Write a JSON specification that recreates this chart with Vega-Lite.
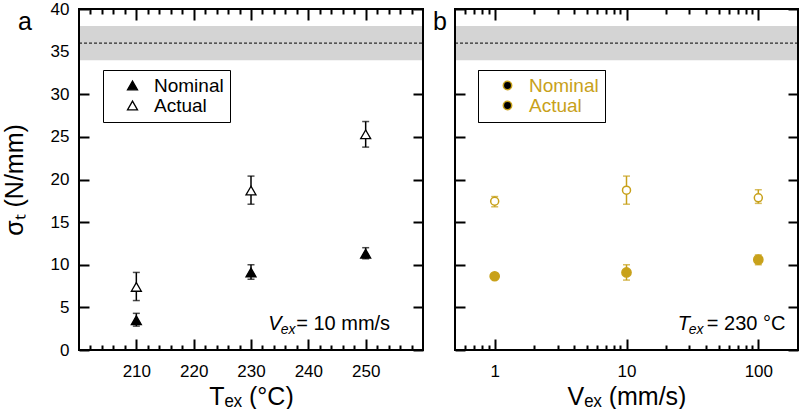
{
  "$schema": "https://vega.github.io/schema/vega-lite/v6.json",
  "padding": {"left": 2, "top": 0, "right": 3, "bottom": 0},
  "width": 719,
  "height": 341,
  "config": {
    "view": {"stroke": null},
    "font": "Liberation Sans",
    "axis": {"domain": false, "grid": false, "tickColor": "black", "tickWidth": 2, "labelColor": "black", "titleColor": "black", "labelFont": "Liberation Sans", "titleFont": "Liberation Sans", "titleFontWeight": "normal", "labelFontSize": 17, "titleFontSize": 25}
  },
  "datasets": {
    "temp": [
      {"T": 210, "type": "Nominal", "v": 3.5, "lo": 2.8, "hi": 4.3},
      {"T": 230, "type": "Nominal", "v": 9.1, "lo": 8.3, "hi": 10.0},
      {"T": 250, "type": "Nominal", "v": 11.3, "lo": 10.7, "hi": 12.0},
      {"T": 210, "type": "Actual", "v": 7.4, "lo": 5.8, "hi": 9.1},
      {"T": 230, "type": "Actual", "v": 18.7, "lo": 17.1, "hi": 20.4},
      {"T": 250, "type": "Actual", "v": 25.3, "lo": 23.8, "hi": 26.8}
    ],
    "vel": [
      {"V": 1, "type": "Nominal", "v": 8.65, "lo": 8.45, "hi": 8.85},
      {"V": 10, "type": "Nominal", "v": 9.1, "lo": 8.2, "hi": 10.0},
      {"V": 100, "type": "Nominal", "v": 10.6, "lo": 10.0, "hi": 11.15},
      {"V": 1, "type": "Actual", "v": 17.45, "lo": 16.8, "hi": 18.0},
      {"V": 10, "type": "Actual", "v": 18.75, "lo": 17.1, "hi": 20.4},
      {"V": 100, "type": "Actual", "v": 17.85, "lo": 17.2, "hi": 18.8}
    ],
    "band": [{"lo": 34, "hi": 38, "ref": 36}]
  },
  "layer": [
    {
      "layer": [
        {
          "data": {"name": "band"},
          "mark": {"type": "rect", "color": "#d4d4d4"},
          "encoding": {
            "x": {"datum": 200, "type": "quantitative", "scale": {"domain": [200, 260], "range": [0, 344], "nice": false, "zero": false}, "axis": null},
            "x2": {"datum": 260},
            "y": {"field": "lo", "type": "quantitative", "scale": {"domain": [0, 40], "nice": false},
              "axis": {"orient": "left", "values": [0,5,10,15,20,25,30,35,40], "tickSize": -10, "labelPadding": 20, "title": "σₜ (N/mm)", "titlePadding": 23}},
            "y2": {"field": "hi"}
          }
        },
        {
          "data": {"name": "band"},
          "mark": {"type": "rule", "color": "black", "strokeWidth": 1, "strokeDash": [3, 2]},
          "encoding": {
            "x": {"datum": 200, "type": "quantitative", "axis": null},
            "x2": {"datum": 260},
            "y": {"field": "ref", "type": "quantitative",
              "axis": {"orient": "right", "offset": -375, "values": [0,5,10,15,20,25,30,35,40], "tickSize": -10, "labels": false, "title": null}}
          }
        },
        {
          "data": {"name": "temp"},
          "mark": {"type": "rule", "color": "black", "strokeWidth": 1.5},
          "encoding": {
            "x": {"field": "T", "type": "quantitative",
              "axis": {"orient": "bottom", "values": [202,204,206,208,210,212,214,216,218,220,222,224,226,228,230,232,234,236,238,240,242,244,246,248,250,252,254,256,258],
                "labelExpr": "datum.value % 10 === 0 ? datum.label : ''",
                "tickSize": {"condition": {"test": "datum.value % 10 === 0", "value": -11}, "value": -5},
                "labelPadding": 24, "title": "Tₑₓ (°C)", "titlePadding": 5}},
            "y": {"field": "lo", "type": "quantitative", "axis": null},
            "y2": {"field": "hi"}
          }
        },
        {
          "data": {"name": "temp"},
          "mark": {"type": "tick", "orient": "horizontal", "color": "black", "size": 7, "thickness": 1.5},
          "encoding": {
            "x": {"field": "T", "type": "quantitative", "axis": null},
            "y": {"field": "lo", "type": "quantitative", "axis": null}
          }
        },
        {
          "data": {"name": "temp"},
          "mark": {"type": "tick", "orient": "horizontal", "color": "black", "size": 7, "thickness": 1.5},
          "encoding": {
            "x": {"field": "T", "type": "quantitative", "axis": null},
            "y": {"field": "hi", "type": "quantitative", "axis": null}
          }
        },
        {
          "data": {"name": "temp"},
          "mark": {"type": "point", "filled": true, "strokeWidth": 1.3, "size": 100, "opacity": 1},
          "encoding": {
            "x": {"field": "T", "type": "quantitative",
              "axis": {"orient": "top", "values": [202,204,206,208,210,212,214,216,218,220,222,224,226,228,230,232,234,236,238,240,242,244,246,248,250,252,254,256,258],
                "labels": false, "tickSize": {"condition": {"test": "datum.value % 10 === 0", "value": -11}, "value": -5}, "title": null}},
            "y": {"field": "v", "type": "quantitative", "axis": null},
            "shape": {"field": "type", "type": "nominal", "scale": {"domain": ["Nominal", "Actual"], "range": ["triangle-up", "triangle-up"]},
              "legend": {"title": null, "orient": "none", "legendX": 24, "legendY": 61, "padding": 6, "strokeColor": "black", "fillColor": "white", "labelFontSize": 19, "labelFont": "Liberation Sans", "symbolSize": 100, "symbolStrokeWidth": 1.3, "symbolOffset": 14, "labelOffset": 12, "rowPadding": 0}},
            "fill": {"field": "type", "type": "nominal", "scale": {"domain": ["Nominal", "Actual"], "range": ["black", "white"]},
              "legend": {"title": null, "orient": "none", "legendX": 24, "legendY": 61, "padding": 6, "strokeColor": "black", "fillColor": "white", "labelFontSize": 19, "labelFont": "Liberation Sans", "symbolSize": 100, "symbolStrokeWidth": 1.3, "symbolOffset": 14, "labelOffset": 12, "rowPadding": 0}},
            "stroke": {"field": "type", "type": "nominal", "scale": {"domain": ["Nominal", "Actual"], "range": ["black", "black"]},
              "legend": {"title": null, "orient": "none", "legendX": 24, "legendY": 61, "padding": 6, "strokeColor": "black", "fillColor": "white", "labelFontSize": 19, "labelFont": "Liberation Sans", "symbolSize": 100, "symbolStrokeWidth": 1.3, "symbolOffset": 14, "labelOffset": 12, "rowPadding": 0}}
          }
        },
        {
          "data": {"name": "band"},
          "mark": {"type": "rect", "filled": false, "color": "black", "strokeWidth": 2},
          "encoding": {
            "x": {"datum": 200, "type": "quantitative", "axis": null},
            "x2": {"datum": 260},
            "y": {"datum": 0, "type": "quantitative", "axis": null},
            "y2": {"datum": 40}
          }
        },
        {
          "data": {"values": [{}]},
          "mark": {"type": "text", "text": "V", "fontStyle": "italic", "fontSize": 20, "align": "left", "baseline": "alphabetic", "color": "black"},
          "encoding": {"x": {"datum": 233, "axis": null}, "y": {"datum": 2.33, "axis": null}}
        },
        {
          "data": {"values": [{}]},
          "mark": {"type": "text", "text": "ex", "fontStyle": "italic", "fontSize": 14, "align": "left", "baseline": "alphabetic", "dx": 12.5, "dy": 4, "color": "black"},
          "encoding": {"x": {"datum": 233, "axis": null}, "y": {"datum": 2.33, "axis": null}}
        },
        {
          "data": {"values": [{}]},
          "mark": {"type": "text", "text": "= 10 mm/s", "fontSize": 20, "align": "left", "baseline": "alphabetic", "dx": 28, "color": "black"},
          "encoding": {"x": {"datum": 233, "axis": null}, "y": {"datum": 2.33, "axis": null}}
        },
        {
          "data": {"values": [{}]},
          "mark": {"type": "text", "text": "a", "fontSize": 25, "align": "left", "baseline": "alphabetic", "dx": -61, "dy": 21, "color": "black"},
          "encoding": {"x": {"datum": 200, "axis": null}, "y": {"datum": 40, "axis": null}}
        }
      ],
      "resolve": {"axis": {"x": "independent", "y": "independent"}}
    },
    {
      "layer": [
        {
          "data": {"name": "band"},
          "mark": {"type": "rect", "color": "#d4d4d4"},
          "encoding": {
            "x": {"datum": 0.5, "type": "quantitative", "scale": {"type": "log", "domain": [0.5, 200], "range": [376, 719], "nice": false}, "axis": null},
            "x2": {"datum": 200},
            "y": {"field": "lo", "type": "quantitative",
              "axis": {"orient": "left", "offset": -376, "values": [0,5,10,15,20,25,30,35,40], "tickSize": -10, "labels": false, "title": null}},
            "y2": {"field": "hi"}
          }
        },
        {
          "data": {"name": "band"},
          "mark": {"type": "rule", "color": "black", "strokeWidth": 1, "strokeDash": [3, 2]},
          "encoding": {
            "x": {"datum": 0.5, "type": "quantitative", "axis": null},
            "x2": {"datum": 200},
            "y": {"field": "ref", "type": "quantitative",
              "axis": {"orient": "right", "values": [0,5,10,15,20,25,30,35,40], "tickSize": -10, "labels": false, "title": null}}
          }
        },
        {
          "data": {"name": "vel"},
          "mark": {"type": "rule", "color": "#C8A11A", "strokeWidth": 1.5},
          "encoding": {
            "x": {"field": "V", "type": "quantitative",
              "axis": {"orient": "bottom", "values": [0.6,0.7,0.8,0.9,1,2,3,4,5,6,7,8,9,10,20,30,40,50,60,70,80,90,100],
                "labelExpr": "(datum.value === 1 || datum.value === 10 || datum.value === 100) ? format(datum.value, 'd') : ''",
                "tickSize": {"condition": {"test": "datum.value === 1 || datum.value === 10 || datum.value === 100", "value": -11}, "value": -5},
                "labelPadding": 24, "title": "Vₑₓ  (mm/s)", "titlePadding": 5}},
            "y": {"field": "lo", "type": "quantitative", "axis": null},
            "y2": {"field": "hi"}
          }
        },
        {
          "data": {"name": "vel"},
          "mark": {"type": "tick", "orient": "horizontal", "color": "#C8A11A", "size": 7, "thickness": 1.5},
          "encoding": {
            "x": {"field": "V", "type": "quantitative", "axis": null},
            "y": {"field": "lo", "type": "quantitative", "axis": null}
          }
        },
        {
          "data": {"name": "vel"},
          "mark": {"type": "tick", "orient": "horizontal", "color": "#C8A11A", "size": 7, "thickness": 1.5},
          "encoding": {
            "x": {"field": "V", "type": "quantitative", "axis": null},
            "y": {"field": "hi", "type": "quantitative", "axis": null}
          }
        },
        {
          "data": {"name": "vel"},
          "mark": {"type": "point", "strokeWidth": 1.5, "opacity": 1, "shape": "circle", "filled": true},
          "encoding": {
            "x": {"field": "V", "type": "quantitative",
              "axis": {"orient": "top", "values": [0.6,0.7,0.8,0.9,1,2,3,4,5,6,7,8,9,10,20,30,40,50,60,70,80,90,100],
                "labels": false, "tickSize": {"condition": {"test": "datum.value === 1 || datum.value === 10 || datum.value === 100", "value": -11}, "value": -5}, "title": null}},
            "y": {"field": "v", "type": "quantitative", "axis": null},
            "fill": {"field": "type", "type": "nominal", "sort": ["Nominal", "Actual"], "scale": {"range": ["#C8A11A", "white"]},
              "legend": {"title": null, "orient": "none", "legendX": 399, "legendY": 61, "padding": 6, "strokeColor": "black", "fillColor": "white", "labelFontSize": 19, "labelFont": "Liberation Sans", "labelColor": "#C8A11A", "symbolType": "circle", "symbolSize": 70, "symbolStrokeWidth": 1.5, "symbolOffset": 14, "labelOffset": 12, "rowPadding": 0}},
            "stroke": {"field": "type", "type": "nominal", "sort": ["Nominal", "Actual"], "scale": {"range": ["#C8A11A", "#C8A11A"]},
              "legend": {"title": null, "orient": "none", "legendX": 399, "legendY": 61, "padding": 6, "strokeColor": "black", "fillColor": "white", "labelFontSize": 19, "labelFont": "Liberation Sans", "labelColor": "#C8A11A", "symbolType": "circle", "symbolSize": 70, "symbolStrokeWidth": 1.5, "symbolOffset": 14, "labelOffset": 12, "rowPadding": 0}},
            "size": {"field": "type", "type": "nominal", "sort": ["Nominal", "Actual"], "scale": {"range": [85, 64]}, "legend": null}
          }
        },
        {
          "data": {"name": "band"},
          "mark": {"type": "rect", "filled": false, "color": "black", "strokeWidth": 2},
          "encoding": {
            "x": {"datum": 0.5, "type": "quantitative", "axis": null},
            "x2": {"datum": 200},
            "y": {"datum": 0, "type": "quantitative", "axis": null},
            "y2": {"datum": 40}
          }
        },
        {
          "data": {"values": [{}]},
          "mark": {"type": "text", "text": "T", "fontStyle": "italic", "fontSize": 20, "align": "left", "baseline": "alphabetic", "color": "black"},
          "encoding": {"x": {"datum": 24.5, "axis": null}, "y": {"datum": 2.33, "axis": null}}
        },
        {
          "data": {"values": [{}]},
          "mark": {"type": "text", "text": "ex", "fontStyle": "italic", "fontSize": 14, "align": "left", "baseline": "alphabetic", "dx": 11, "dy": 4, "color": "black"},
          "encoding": {"x": {"datum": 24.5, "axis": null}, "y": {"datum": 2.33, "axis": null}}
        },
        {
          "data": {"values": [{}]},
          "mark": {"type": "text", "text": "= 230 °C", "fontSize": 20, "align": "left", "baseline": "alphabetic", "dx": 29, "color": "black"},
          "encoding": {"x": {"datum": 24.5, "axis": null}, "y": {"datum": 2.33, "axis": null}}
        },
        {
          "data": {"values": [{}]},
          "mark": {"type": "text", "text": "b", "fontSize": 25, "align": "left", "baseline": "alphabetic", "dx": -22, "dy": 21, "color": "black"},
          "encoding": {"x": {"datum": 0.5, "axis": null}, "y": {"datum": 40, "axis": null}}
        }
      ],
      "resolve": {"axis": {"x": "independent", "y": "independent"}}
    }
  ],
  "resolve": {
    "scale": {"x": "independent", "fill": "independent", "stroke": "independent", "shape": "independent", "size": "independent"},
    "axis": {"x": "independent", "y": "independent"},
    "legend": {"fill": "independent", "stroke": "independent", "shape": "independent", "size": "independent"}
  }
}
